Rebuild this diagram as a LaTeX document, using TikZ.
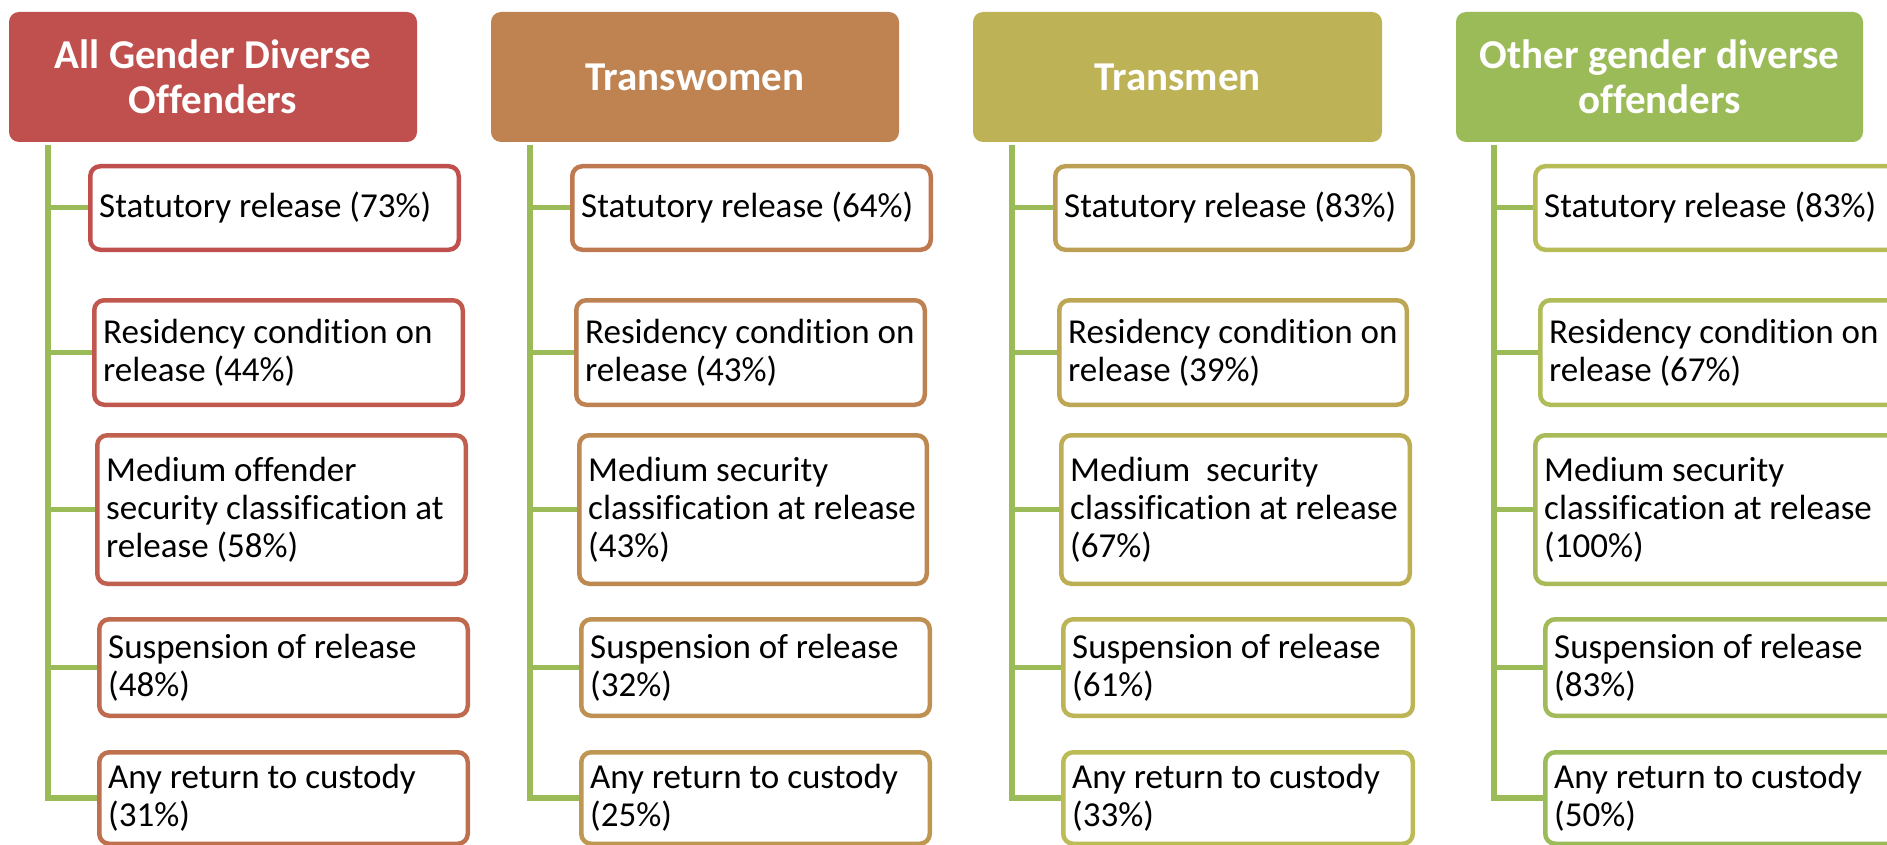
\documentclass[tikz,border=0pt]{standalone}
\usepackage{fontspec}
\setmainfont{Carlito}[Ligatures=CommonOff]
\pgfdeclarelayer{bg}
\pgfsetlayers{bg,main}
\definecolor{hA}{RGB}{192,80,77}
\definecolor{hB}{RGB}{190,131,81}
\definecolor{hC}{RGB}{189,178,85}
\definecolor{hD}{RGB}{155,187,89}
\definecolor{trunkgreen}{RGB}{155,187,89}
\definecolor{k0}{RGB}{192,80,77}
\definecolor{k1}{RGB}{192,88,77}
\definecolor{k2}{RGB}{191,97,78}
\definecolor{k3}{RGB}{191,105,79}
\definecolor{k4}{RGB}{191,113,79}
\definecolor{k5}{RGB}{191,121,80}
\definecolor{k6}{RGB}{190,129,81}
\definecolor{k7}{RGB}{190,136,81}
\definecolor{k8}{RGB}{190,144,82}
\definecolor{k9}{RGB}{190,151,83}
\definecolor{k10}{RGB}{189,159,83}
\definecolor{k11}{RGB}{189,166,84}
\definecolor{k12}{RGB}{189,173,85}
\definecolor{k13}{RGB}{189,180,85}
\definecolor{k14}{RGB}{188,187,86}
\definecolor{k15}{RGB}{183,188,86}
\definecolor{k16}{RGB}{176,188,87}
\definecolor{k17}{RGB}{169,187,88}
\definecolor{k18}{RGB}{162,187,88}
\definecolor{k19}{RGB}{155,187,89}
\tikzset{
  headerbox/.style={fill=#1, draw=none, rounded corners=10pt, text=white,
    font=\fontsize{41}{45}\selectfont\bfseries, align=center, inner sep=0pt},
  childbox/.style={draw=#1, line width=4.5pt, fill=white, rounded corners=10pt, inner sep=0pt},
  childtext/.style={font=\fontsize{35}{38}\selectfont, align=left, anchor=west, inner sep=0pt, text=black},
  trunkline/.style={draw=trunkgreen, line width=6pt},
  branchline/.style={draw=trunkgreen, line width=5pt},
}
% name, L, R, T, B, colour, text
\newcommand\cbox[7]{%
  \node[childbox=#6, minimum width={#3-#2-4.5}, minimum height={#5-#4-4.5}] (#1) at ({(#2+#3)/2},{(#4+#5)/2}) {};
  \node[childtext] (#1t) at ([xshift=11pt]#1.west) {#7};
}
% name, L, R, colour, text
\newcommand\hdrbox[5]{%
  \node[headerbox=#4, minimum width={#3-#2}, minimum height=130] (#1) at ({(#2+#3)/2},77) {#5};
}
% trunk: col index, x, 5 box names
\newcommand\trunkfor[7]{%
  \coordinate (t#1) at (#2,145);
  \begin{pgfonlayer}{bg}
  \draw[trunkline] (t#1) |- (#7.west);
  \draw[branchline] (t#1 |- #3.west) -- (#3.west);
  \draw[branchline] (t#1 |- #4.west) -- (#4.west);
  \draw[branchline] (t#1 |- #5.west) -- (#5.west);
  \draw[branchline] (t#1 |- #6.west) -- (#6.west);
  \end{pgfonlayer}
}
\begin{document}
\begin{tikzpicture}[x=1pt,y=-1pt]
\useasboundingbox (0,0) rectangle (1887,845);
% column 1
\hdrbox{h1}{9}{417}{hA}{All Gender Diverse\\Offenders}
\cbox{a1}{88}{461}{164}{252}{k0}{Statutory release (73\%)}
\cbox{b1}{92}{465}{298}{407}{k1}{Residency condition on\\release (44\%)}
\cbox{c1}{95}{468}{433}{586}{k2}{Medium offender\\security classification at\\release (58\%)}
\cbox{d1}{97}{470}{617}{718}{k3}{Suspension of release\\(48\%)}
\cbox{e1}{97}{470}{750}{846}{k4}{Any return to custody\\(31\%)}
\trunkfor{1}{48}{a1}{b1}{c1}{d1}{e1}
% column 2
\hdrbox{h2}{491}{899}{hB}{Transwomen}
\cbox{a2}{570}{933}{164}{252}{k5}{Statutory release (64\%)}
\cbox{b2}{574}{927}{298}{407}{k6}{Residency condition on\\release (43\%)}
\cbox{c2}{577}{929}{433}{586}{k7}{Medium security\\classification at release\\(43\%)}
\cbox{d2}{579}{932}{617}{718}{k8}{Suspension of release\\(32\%)}
\cbox{e2}{579}{932}{750}{846}{k9}{Any return to custody\\(25\%)}
\trunkfor{2}{530}{a2}{b2}{c2}{d2}{e2}
% column 3
\hdrbox{h3}{973}{1382}{hC}{Transmen}
\cbox{a3}{1053}{1415}{164}{252}{k10}{Statutory release (83\%)}
\cbox{b3}{1057}{1409}{298}{407}{k11}{Residency condition on\\release (39\%)}
\cbox{c3}{1059}{1412}{433}{586}{k12}{Medium\ \ security\\classification at release\\(67\%)}
\cbox{d3}{1061}{1415}{617}{718}{k13}{Suspension of release\\(61\%)}
\cbox{e3}{1061}{1415}{750}{846}{k14}{Any return to custody\\(33\%)}
\trunkfor{3}{1012}{a3}{b3}{c3}{d3}{e3}
% column 4
\hdrbox{h4}{1456}{1863}{hD}{Other gender diverse\\offenders}
\cbox{a4}{1533}{1905}{164}{252}{k15}{Statutory release (83\%)}
\cbox{b4}{1538}{1905}{298}{407}{k16}{Residency condition on\\release (67\%)}
\cbox{c4}{1533}{1905}{433}{586}{k17}{Medium security\\classification at release\\(100\%)}
\cbox{d4}{1543}{1905}{617}{718}{k18}{Suspension of release\\(83\%)}
\cbox{e4}{1543}{1905}{750}{846}{k19}{Any return to custody\\(50\%)}
\trunkfor{4}{1494}{a4}{b4}{c4}{d4}{e4}
\end{tikzpicture}
\end{document}
